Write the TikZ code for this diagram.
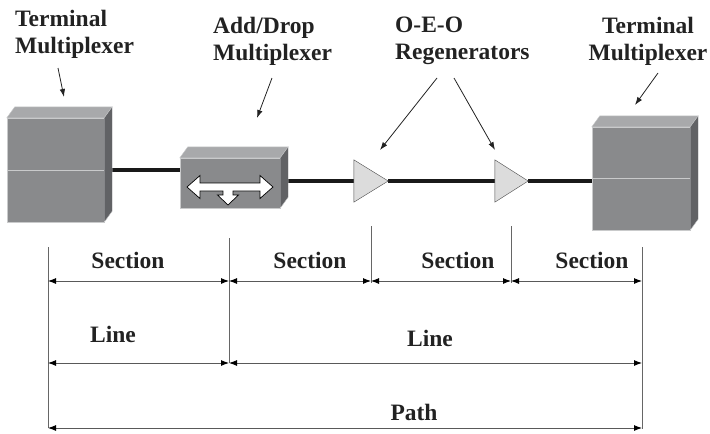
\documentclass[tikz,border=0pt]{standalone}
\usepackage{fontspec}
\setmainfont{Liberation Serif}
\usepackage{tikz}
\usetikzlibrary{arrows.meta, positioning, calc}

\definecolor{FrontGray}{HTML}{898A8C}
\definecolor{TopGray}{HTML}{A8A9AB}
\definecolor{SideGray}{HTML}{616265}
\definecolor{EdgeGray}{HTML}{C9CACB}
\definecolor{RegenFill}{HTML}{DCDCDC}
\definecolor{Ink}{HTML}{222222}

% top and side faces of a box drawn as a node
\newcommand{\boxfaces}[1]{%
  \filldraw[fill=TopGray, draw=EdgeGray, thin] (#1.north west) -- ++(8,-11)
    -- ([shift={(8,-11)}]#1.north east) -- (#1.north east) -- cycle;
  \filldraw[fill=SideGray, draw=EdgeGray, thin] (#1.north east) -- ++(8,-11)
    -- ([shift={(8,-11)}]#1.south east) -- (#1.south east) -- cycle;
}
% regenerator triangle inside its node
\newcommand{\regen}[1]{%
  \filldraw[fill=RegenFill, draw=black!70, thin] (#1.north west) -- (#1.east) -- (#1.south west) -- cycle;
}

\begin{document}
\begin{tikzpicture}
  [
    x=1pt, y=-1pt,
    Device/.style={rectangle, draw=EdgeGray, fill=FrontGray, thin, inner sep=0},
    Regen/.style={rectangle, draw=none, inner sep=0, minimum width=34pt, minimum height=42pt},
    Cable/.style={line width=3.8pt, black!90},
    Pointer/.style={-{Latex[length=8pt, width=5.5pt]}, line width=0.8pt, Ink},
    Tick/.style={line width=0.9pt, black!60},
    Dim/.style={{Latex[length=8pt, width=6pt, black]}-{Latex[length=8pt, width=6pt, black]}, line width=0.9pt, black!65},
    Caption/.style={inner sep=0, text=Ink, font=\fontsize{23.5}{27}\selectfont\bfseries}
  ]
  \useasboundingbox (0,0) rectangle (710,434);

  % Nodes
  \node[Device, minimum width=97pt, minimum height=104pt] (tm1) at (55.5,170) {};
  \node[Device, minimum width=100pt, minimum height=50pt] (adm) at (230,183) {};
  \node[Regen] (r1) at (371,181) {};
  \node[Regen, minimum width=33pt] (r2) at (511.5,181) {};
  \node[Device, minimum width=98pt, minimum height=103pt] (tm2) at (641,178.5) {};

  % Cables
  \draw[Cable] (tm1.east) -- (tm1.east -| adm.west);
  \draw[Cable] (r1.west -| adm.east) -- (r1.west);
  \draw[Cable] (r1.east) -- (r2.west);
  \draw[Cable] (r2.east) -- (r2.east -| tm2.west);

  % Boxes and amplifiers
  \boxfaces{tm1}
  \boxfaces{adm}
  \boxfaces{tm2}
  \draw[EdgeGray, line width=1pt] (tm1.west) -- (tm1.east);
  \draw[EdgeGray, line width=1pt] (tm2.west) -- (tm2.east);
  \regen{r1}
  \regen{r2}
  \draw[fill=white, line width=0.7pt, shift={(adm.center)}]
    (-43,4) -- (-30,-7.5) -- (-30,0) -- (30,0) -- (30,-7.5) -- (43,4) -- (30,15.5)
    -- (30,8) -- (3,8) -- (3,12) -- (8.5,12) -- (-2,22) -- (-12.5,12) -- (-7,12)
    -- (-7,8) -- (-30,8) -- (-30,15.5) -- cycle;

  % Labels
  \node[Caption, anchor=north west, align=left] (tmlabel1) at (15,10) {Terminal\\Multiplexer};
  \node[Caption, anchor=north west, align=left] (admlabel) at (213,17) {Add/Drop\\Multiplexer};
  \node[Caption, anchor=north west, align=left] (regenlabel) at (395,17) {O-E-O\\Regenerators};
  \node[Caption, anchor=north, align=center] (tmlabel2) at (648,17) {Terminal\\Multiplexer};

  % Pointers
  \coordinate (a1) at (58,68);   \coordinate (b1) at (64,97);
  \coordinate (a2) at (272,78);  \coordinate (b2) at (257,118);
  \coordinate (a3) at (437,78);  \coordinate (b3) at (380,150);
  \coordinate (a4) at (454,78);  \coordinate (b4) at (495,150);
  \coordinate (a5) at (658,73);  \coordinate (b5) at (635,105);
  \draw[Pointer] (a1) -- (b1);
  \draw[Pointer] (a2) -- (b2);
  \draw[Pointer] (a3) -- (b3);
  \draw[Pointer] (a4) -- (b4);
  \draw[Pointer] (a5) -- (b5);

  % Ticks
  \coordinate (v0) at (48,247);  \coordinate (w0) at (48,428);
  \coordinate (v1) at (229,238); \coordinate (w1) at (229,363);
  \coordinate (v2) at (371,226); \coordinate (w2) at (371,283);
  \coordinate (v3) at (511,226); \coordinate (w3) at (511,283);
  \coordinate (v4) at (642,247); \coordinate (w4) at (642,429);
  \draw[Tick] (v0) -- (w0);
  \draw[Tick] (v1) -- (w1);
  \draw[Tick] (v2) -- (w2);
  \draw[Tick] (v3) -- (w3);
  \draw[Tick] (v4) -- (w4);

  % Spans
  \coordinate (sec) at (0,281);
  \coordinate (lin) at (0,363);
  \coordinate (pth) at (0,428);
  \draw[Dim] (v0 |- sec) -- (v1 |- sec);
  \draw[Dim] (v1 |- sec) -- (v2 |- sec);
  \draw[Dim] (v2 |- sec) -- (v3 |- sec);
  \draw[Dim] (v3 |- sec) -- (v4 |- sec);
  \draw[Dim] (v0 |- lin) -- (v1 |- lin);
  \draw[Dim] (v1 |- lin) -- (v4 |- lin);
  \draw[Dim] (v0 |- pth) -- (v4 |- pth);

  \node[Caption, anchor=base] (sec1) at (128,268) {Section};
  \node[Caption, anchor=base] (sec2) at (310,268) {Section};
  \node[Caption, anchor=base] (sec3) at (458,268) {Section};
  \node[Caption, anchor=base] (sec4) at (592,268) {Section};
  \node[Caption, anchor=base] (line1) at (113,342) {Line};
  \node[Caption, anchor=base] (line2) at (430,346) {Line};
  \node[Caption, anchor=base] (path) at (414,420) {Path};
\end{tikzpicture}
\end{document}
